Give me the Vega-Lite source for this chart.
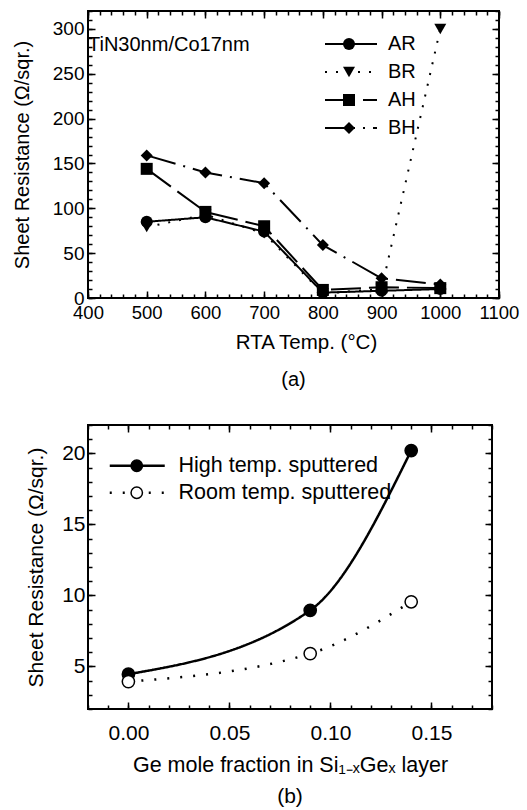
{
  "$schema": "https://vega.github.io/schema/vega-lite/v6.json",
  "background": "white",
  "padding": {"left": 11, "top": 9, "right": 3, "bottom": 2},
  "config": {
    "font": "Liberation Sans",
    "view": {"stroke": "black", "strokeWidth": 2},
    "axis": {"labelColor": "black", "titleColor": "black", "tickColor": "black", "titleFontWeight": "normal", "domain": false, "grid": false, "labelOverlap": false, "labelFlush": false, "tickWidth": 1.5},
    "title": {"fontWeight": "normal", "color": "black"},
    "legend": {"labelColor": "black", "padding": 0}
  },
  "spacing": 32,
  "resolve": {
    "scale": {"strokeDash": "independent", "shape": "independent", "fill": "independent"},
    "legend": {"strokeDash": "independent", "shape": "independent", "fill": "independent"}
  },
  "vconcat": [
    {
      "width": 411,
      "height": 287,
      "title": {"text": "(a)", "orient": "bottom", "fontSize": 20, "offset": 17},
      "data": {"values": [
        {"T": 500, "R": 85, "series": "AR"},
        {"T": 600, "R": 90, "series": "AR"},
        {"T": 700, "R": 74, "series": "AR"},
        {"T": 800, "R": 6, "series": "AR"},
        {"T": 900, "R": 8, "series": "AR"},
        {"T": 1000, "R": 10, "series": "AR"},
        {"T": 500, "R": 79, "series": "BR"},
        {"T": 600, "R": 93, "series": "BR"},
        {"T": 700, "R": 72, "series": "BR"},
        {"T": 800, "R": 5, "series": "BR"},
        {"T": 900, "R": 10, "series": "BR"},
        {"T": 1000, "R": 300, "series": "BR"},
        {"T": 500, "R": 144, "series": "AH"},
        {"T": 600, "R": 96, "series": "AH"},
        {"T": 700, "R": 80, "series": "AH"},
        {"T": 800, "R": 9, "series": "AH"},
        {"T": 900, "R": 12, "series": "AH"},
        {"T": 1000, "R": 11, "series": "AH"},
        {"T": 500, "R": 159, "series": "BH"},
        {"T": 600, "R": 140, "series": "BH"},
        {"T": 700, "R": 128, "series": "BH"},
        {"T": 800, "R": 59, "series": "BH"},
        {"T": 900, "R": 22, "series": "BH"},
        {"T": 1000, "R": 15, "series": "BH"}
      ]},
      "layer": [
        {
          "mark": {"type": "line", "color": "black", "strokeWidth": 2},
          "encoding": {
            "x": {"field": "T", "type": "quantitative", "scale": {"domain": [400, 1100], "nice": false, "zero": false},
              "axis": {"orient": "bottom", "values": [400, 500, 600, 700, 800, 900, 1000, 1100], "format": "d",
                "tickSize": -7, "labelFontSize": 18.5, "labelPadding": 12,
                "title": "RTA Temp. (°C)", "titleFontSize": 20.5, "titlePadding": 11, "titleX": 218}},
            "y": {"field": "R", "type": "quantitative", "scale": {"domain": [0, 320], "nice": false},
              "axis": {"orient": "left", "values": [0, 50, 100, 150, 200, 250, 300], "format": "d",
                "tickSize": -7, "labelFontSize": 19, "labelPadding": 11,
                "title": "Sheet Resistance (Ω/sqr.)", "titleFontSize": 20, "titlePadding": 20}},
            "strokeDash": {"field": "series", "type": "nominal", "sort": ["AR", "BR", "AH", "BH"],
              "scale": {"range": [[1, 0], [2, 9], [30, 8], [30, 8, 2, 8]]},
              "legend": {"orient": "none", "legendX": 253, "legendY": 23, "title": null, "symbolType": "M-5.2,0H5.2", "symbolSize": 100, "symbolStrokeWidth": 2, "symbolStrokeColor": "black", "labelFontSize": 20, "labelOffset": 27, "rowPadding": 8}}
          }
        },
        {
          "mark": {"type": "point", "filled": true, "color": "black", "size": 144, "opacity": 1},
          "encoding": {
            "x": {"field": "T", "type": "quantitative",
              "axis": {"orient": "top", "values": [400, 500, 600, 700, 800, 900, 1000, 1100], "tickSize": -7, "labels": false, "title": null}},
            "y": {"field": "R", "type": "quantitative",
              "axis": {"orient": "right", "values": [0, 50, 100, 150, 200, 250, 300], "tickSize": -7, "labels": false, "title": null}},
            "shape": {"field": "series", "type": "nominal",
              "scale": {"domain": ["AR", "BR", "AH", "BH"], "range": ["circle", "triangle-down", "square", "diamond"]},
              "legend": {"orient": "none", "legendX": 251, "legendY": 23, "title": null, "symbolSize": 144, "symbolFillColor": "black", "symbolStrokeWidth": 0, "labelFontSize": 20, "labelColor": "transparent", "labelExpr": "''", "rowPadding": 8}}
          }
        },
        {
          "data": {"values": [{"label": "TiN30nm/Co17nm"}]},
          "mark": {"type": "text", "align": "left", "baseline": "middle", "fontSize": 20, "color": "black", "dx": 0},
          "encoding": {
            "x": {"datum": 400, "type": "quantitative",
              "axis": {"orient": "bottom", "values": [400,420,440,460,480,500,520,540,560,580,600,620,640,660,680,700,720,740,760,780,800,820,840,860,880,900,920,940,960,980,1000,1020,1040,1060,1080,1100], "tickSize": -4, "labels": false, "title": null}},
            "y": {"datum": 282, "type": "quantitative",
              "axis": {"orient": "left", "values": [0,10,20,30,40,50,60,70,80,90,100,110,120,130,140,150,160,170,180,190,200,210,220,230,240,250,260,270,280,290,300,310,320], "tickSize": -4, "labels": false, "title": null}},
            "text": {"field": "label", "type": "nominal"}
          }
        },
        {
          "mark": {"type": "point", "opacity": 0},
          "encoding": {
            "x": {"field": "T", "type": "quantitative",
              "axis": {"orient": "top", "values": [400,420,440,460,480,500,520,540,560,580,600,620,640,660,680,700,720,740,760,780,800,820,840,860,880,900,920,940,960,980,1000,1020,1040,1060,1080,1100], "tickSize": -4, "labels": false, "title": null}},
            "y": {"field": "R", "type": "quantitative",
              "axis": {"orient": "right", "values": [0,10,20,30,40,50,60,70,80,90,100,110,120,130,140,150,160,170,180,190,200,210,220,230,240,250,260,270,280,290,300,310,320], "tickSize": -4, "labels": false, "title": null}}
          }
        }
      ],
      "resolve": {"axis": {"x": "independent", "y": "independent"}}
    },
    {
      "width": 404,
      "height": 284,
      "title": {"text": "(b)", "orient": "bottom", "fontSize": 21, "offset": 10},
      "data": {"values": [
        {"x": 0.0, "R": 4.45, "series": "High temp. sputtered"},
        {"x": 0.09, "R": 8.95, "series": "High temp. sputtered"},
        {"x": 0.14, "R": 20.2, "series": "High temp. sputtered"},
        {"x": 0.0, "R": 3.93, "series": "Room temp. sputtered"},
        {"x": 0.09, "R": 5.9, "series": "Room temp. sputtered"},
        {"x": 0.14, "R": 9.55, "series": "Room temp. sputtered"}
      ]},
      "layer": [
        {
          "mark": {"type": "line", "color": "black", "strokeWidth": 2.5, "interpolate": "monotone"},
          "encoding": {
            "x": {"field": "x", "type": "quantitative", "scale": {"domain": [-0.02, 0.18], "nice": false, "zero": false},
              "axis": {"orient": "bottom", "values": [0, 0.05, 0.1, 0.15], "format": ".2f",
                "tickSize": -7, "labelFontSize": 21, "labelPadding": 20,
                "title": "Ge mole fraction in Si₁₋ₓGeₓ layer", "titleFontSize": 21.5, "titlePadding": 11}},
            "y": {"field": "R", "type": "quantitative", "scale": {"domain": [2, 22], "nice": false, "zero": false},
              "axis": {"orient": "left", "values": [5, 10, 15, 20], "format": "d",
                "tickSize": -7, "labelFontSize": 21, "labelPadding": 10,
                "title": "Sheet Resistance (Ω/sqr.)", "titleFontSize": 21, "titlePadding": 15}},
            "strokeDash": {"field": "series", "type": "nominal", "sort": ["High temp. sputtered", "Room temp. sputtered"],
              "scale": {"range": [[1, 0], [2, 11]]},
              "legend": {"orient": "none", "legendX": 38.5, "legendY": 30, "title": null, "symbolType": "M-5.5,0H5.5", "symbolSize": 100, "symbolStrokeWidth": 2.5, "symbolStrokeColor": "black", "labelFontSize": 21.5, "labelOffset": 30.5, "rowPadding": 4, "labelLimit": 400}}
          }
        },
        {
          "mark": {"type": "point", "filled": true, "stroke": "black", "strokeWidth": 1.5, "size": 150, "opacity": 1, "shape": "circle"},
          "encoding": {
            "x": {"field": "x", "type": "quantitative",
              "axis": {"orient": "top", "values": [0, 0.05, 0.1, 0.15], "tickSize": -7, "labels": false, "title": null}},
            "y": {"field": "R", "type": "quantitative",
              "axis": {"orient": "right", "values": [5, 10, 15, 20], "tickSize": -7, "labels": false, "title": null}},
            "fill": {"field": "series", "type": "nominal",
              "scale": {"domain": ["High temp. sputtered", "Room temp. sputtered"], "range": ["black", "white"]},
              "legend": {"orient": "none", "legendX": 38, "legendY": 30, "title": null, "symbolType": "circle", "symbolSize": 130, "symbolStrokeColor": "black", "symbolStrokeWidth": 1.5, "labelFontSize": 21.5, "labelColor": "transparent", "labelExpr": "''", "rowPadding": 4}}
          }
        },
        {
          "mark": {"type": "point", "opacity": 0},
          "encoding": {
            "x": {"field": "x", "type": "quantitative",
              "axis": {"orient": "bottom", "values": [-0.02,-0.01,0,0.01,0.02,0.03,0.04,0.05,0.06,0.07,0.08,0.09,0.1,0.11,0.12,0.13,0.14,0.15,0.16,0.17,0.18], "tickSize": -4, "labels": false, "title": null}},
            "y": {"field": "R", "type": "quantitative",
              "axis": {"orient": "left", "values": [2,3,4,5,6,7,8,9,10,11,12,13,14,15,16,17,18,19,20,21,22], "tickSize": -4, "labels": false, "title": null}}
          }
        },
        {
          "mark": {"type": "point", "opacity": 0},
          "encoding": {
            "x": {"field": "x", "type": "quantitative",
              "axis": {"orient": "top", "values": [-0.02,-0.01,0,0.01,0.02,0.03,0.04,0.05,0.06,0.07,0.08,0.09,0.1,0.11,0.12,0.13,0.14,0.15,0.16,0.17,0.18], "tickSize": -4, "labels": false, "title": null}},
            "y": {"field": "R", "type": "quantitative",
              "axis": {"orient": "right", "values": [2,3,4,5,6,7,8,9,10,11,12,13,14,15,16,17,18,19,20,21,22], "tickSize": -4, "labels": false, "title": null}}
          }
        }
      ],
      "resolve": {"axis": {"x": "independent", "y": "independent"}}
    }
  ]
}
